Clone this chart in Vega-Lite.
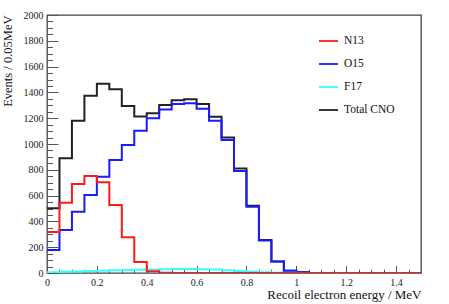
{
  "$schema": "https://vega.github.io/schema/vega-lite/v6.json",
  "autosize": {"type": "none"},
  "padding": {"left": 47, "top": 15, "right": 28, "bottom": 31},
  "width": 374,
  "height": 258,
  "background": "white",
  "config": {
    "view": {"stroke": "#444", "strokeWidth": 1.3},
    "font": "Liberation Serif"
  },
  "datasets": {
    "h": [
      {"s":"Total CNO","x":0,"y":501},{"s":"Total CNO","x":0.05,"y":890},{"s":"Total CNO","x":0.1,"y":1180},{"s":"Total CNO","x":0.15,"y":1375},{"s":"Total CNO","x":0.2,"y":1467},{"s":"Total CNO","x":0.25,"y":1424},{"s":"Total CNO","x":0.3,"y":1294},{"s":"Total CNO","x":0.35,"y":1214},{"s":"Total CNO","x":0.4,"y":1238},{"s":"Total CNO","x":0.45,"y":1302},{"s":"Total CNO","x":0.5,"y":1340},{"s":"Total CNO","x":0.55,"y":1346},{"s":"Total CNO","x":0.6,"y":1310},{"s":"Total CNO","x":0.65,"y":1212},{"s":"Total CNO","x":0.7,"y":1051},{"s":"Total CNO","x":0.75,"y":811},{"s":"Total CNO","x":0.8,"y":522},{"s":"Total CNO","x":0.85,"y":256},{"s":"Total CNO","x":0.9,"y":90},{"s":"Total CNO","x":0.95,"y":18},{"s":"Total CNO","x":1.0,"y":5},{"s":"Total CNO","x":1.05,"y":0},{"s":"Total CNO","x":1.1,"y":0},{"s":"Total CNO","x":1.15,"y":0},{"s":"Total CNO","x":1.2,"y":0},{"s":"Total CNO","x":1.25,"y":0},{"s":"Total CNO","x":1.3,"y":0},{"s":"Total CNO","x":1.35,"y":0},{"s":"Total CNO","x":1.4,"y":0},{"s":"Total CNO","x":1.45,"y":0},{"s":"Total CNO","x":1.5,"y":0},
      {"s":"O15","x":0,"y":178},{"s":"O15","x":0.05,"y":333},{"s":"O15","x":0.1,"y":475},{"s":"O15","x":0.15,"y":604},{"s":"O15","x":0.2,"y":747},{"s":"O15","x":0.25,"y":876},{"s":"O15","x":0.3,"y":992},{"s":"O15","x":0.35,"y":1103},{"s":"O15","x":0.4,"y":1199},{"s":"O15","x":0.45,"y":1268},{"s":"O15","x":0.5,"y":1310},{"s":"O15","x":0.55,"y":1315},{"s":"O15","x":0.6,"y":1274},{"s":"O15","x":0.65,"y":1181},{"s":"O15","x":0.7,"y":1031},{"s":"O15","x":0.75,"y":790},{"s":"O15","x":0.8,"y":514},{"s":"O15","x":0.85,"y":251},{"s":"O15","x":0.9,"y":90},{"s":"O15","x":0.95,"y":18},{"s":"O15","x":1.0,"y":5},{"s":"O15","x":1.05,"y":0},{"s":"O15","x":1.1,"y":0},{"s":"O15","x":1.15,"y":0},{"s":"O15","x":1.2,"y":0},{"s":"O15","x":1.25,"y":0},{"s":"O15","x":1.3,"y":0},{"s":"O15","x":1.35,"y":0},{"s":"O15","x":1.4,"y":0},{"s":"O15","x":1.45,"y":0},{"s":"O15","x":1.5,"y":0},
      {"s":"F17","x":0,"y":6},{"s":"F17","x":0.05,"y":9},{"s":"F17","x":0.1,"y":12},{"s":"F17","x":0.15,"y":15},{"s":"F17","x":0.2,"y":18},{"s":"F17","x":0.25,"y":21},{"s":"F17","x":0.3,"y":24},{"s":"F17","x":0.35,"y":26},{"s":"F17","x":0.4,"y":28},{"s":"F17","x":0.45,"y":30},{"s":"F17","x":0.5,"y":31},{"s":"F17","x":0.55,"y":31},{"s":"F17","x":0.6,"y":30},{"s":"F17","x":0.65,"y":27},{"s":"F17","x":0.7,"y":22},{"s":"F17","x":0.75,"y":16},{"s":"F17","x":0.8,"y":10},{"s":"F17","x":0.85,"y":5},{"s":"F17","x":0.9,"y":2},{"s":"F17","x":0.95,"y":1},{"s":"F17","x":1.0,"y":0},{"s":"F17","x":1.05,"y":0},{"s":"F17","x":1.1,"y":0},{"s":"F17","x":1.15,"y":0},{"s":"F17","x":1.2,"y":0},{"s":"F17","x":1.25,"y":0},{"s":"F17","x":1.3,"y":0},{"s":"F17","x":1.35,"y":0},{"s":"F17","x":1.4,"y":0},{"s":"F17","x":1.45,"y":0},{"s":"F17","x":1.5,"y":0},
      {"s":"N13","x":0,"y":318},{"s":"N13","x":0.05,"y":545},{"s":"N13","x":0.1,"y":690},{"s":"N13","x":0.15,"y":752},{"s":"N13","x":0.2,"y":703},{"s":"N13","x":0.25,"y":527},{"s":"N13","x":0.3,"y":277},{"s":"N13","x":0.35,"y":85},{"s":"N13","x":0.4,"y":13},{"s":"N13","x":0.45,"y":2},{"s":"N13","x":0.5,"y":0},{"s":"N13","x":0.55,"y":0},{"s":"N13","x":0.6,"y":0},{"s":"N13","x":0.65,"y":0},{"s":"N13","x":0.7,"y":0},{"s":"N13","x":0.75,"y":0},{"s":"N13","x":0.8,"y":0},{"s":"N13","x":0.85,"y":0},{"s":"N13","x":0.9,"y":0},{"s":"N13","x":0.95,"y":0},{"s":"N13","x":1.0,"y":0},{"s":"N13","x":1.05,"y":0},{"s":"N13","x":1.1,"y":0},{"s":"N13","x":1.15,"y":0},{"s":"N13","x":1.2,"y":0},{"s":"N13","x":1.25,"y":0},{"s":"N13","x":1.3,"y":0},{"s":"N13","x":1.35,"y":0},{"s":"N13","x":1.4,"y":0},{"s":"N13","x":1.45,"y":0},{"s":"N13","x":1.5,"y":0}
    ]
  },
  "data": {"name": "h"},
  "encoding": {
    "x": {
      "field": "x", "type": "quantitative",
      "scale": {"domain": [0, 1.5], "nice": false, "zero": false},
      "axis": {
        "title": "Recoil electron energy / MeV",
        "titleFont": "Liberation Serif", "titleFontSize": 13, "titleFontWeight": "normal", "titleColor": "#111",
        "titleAnchor": "end", "titlePadding": -2,
        "values": [0,0.05,0.1,0.15,0.2,0.25,0.3,0.35,0.4,0.45,0.5,0.55,0.6,0.65,0.7,0.75,0.8,0.85,0.9,0.95,1,1.05,1.1,1.15,1.2,1.25,1.3,1.35,1.4,1.45,1.5],
        "labelExpr": "(abs(datum.value*5 - round(datum.value*5)) < 0.001 && datum.value < 1.45) ? format(datum.value, '.1~f') : ''",
        "labelFont": "Liberation Serif", "labelFontSize": 10, "labelColor": "#222",
        "labelPadding": 11.5, "labelFlush": false, "labelOverlap": false,
        "domain": false, "grid": false,
        "tickColor": "#555", "tickWidth": 1,
        "tickSize": {"condition": {"test": "abs(datum.value*5 - round(datum.value*5)) < 0.001", "value": -7.5}, "value": -3.8}
      }
    },
    "y": {
      "field": "y", "type": "quantitative",
      "scale": {"domain": [0, 2000], "nice": false},
      "axis": {
        "title": "Events / 0.05MeV",
        "titleFont": "Liberation Serif", "titleFontSize": 12.5, "titleFontWeight": "normal", "titleColor": "#111",
        "titleAnchor": "end", "titlePadding": 9,
        "values": [0,50,100,150,200,250,300,350,400,450,500,550,600,650,700,750,800,850,900,950,1000,1050,1100,1150,1200,1250,1300,1350,1400,1450,1500,1550,1600,1650,1700,1750,1800,1850,1900,1950,2000],
        "labelExpr": "(datum.value % 200 == 0) ? format(datum.value, 'd') : ''",
        "labelFont": "Liberation Serif", "labelFontSize": 10, "labelColor": "#222",
        "labelPadding": 15, "labelFlush": false, "labelOverlap": false,
        "domain": false, "grid": false,
        "tickColor": "#555", "tickWidth": 1,
        "tickSize": {"condition": {"test": "datum.value % 200 == 0", "value": -11}, "value": -5.5}
      }
    },
    "color": {
      "field": "s", "type": "nominal",
      "scale": {"domain": ["N13", "O15", "F17", "Total CNO"], "range": ["#ff1a1a", "#1a1aff", "#33ffff", "#222222"]},
      "legend": {
        "orient": "none", "legendX": 271, "legendY": 15.5, "title": null,
        "symbolType": "stroke", "symbolSize": 361, "symbolStrokeWidth": 1.8,
        "labelFont": "Liberation Serif", "labelFontSize": 11.5, "labelColor": "#111",
        "labelOffset": 5, "rowPadding": 7
      }
    }
  },
  "layer": [
    {"transform": [{"filter": "datum.s == 'Total CNO'"}], "mark": {"type": "line", "interpolate": "step-after", "strokeWidth": 2, "clip": true}},
    {"transform": [{"filter": "datum.s == 'O15'"}], "mark": {"type": "line", "interpolate": "step-after", "strokeWidth": 2, "clip": true}},
    {"transform": [{"filter": "datum.s == 'F17'"}], "mark": {"type": "line", "interpolate": "step-after", "strokeWidth": 2, "clip": true}},
    {"transform": [{"filter": "datum.s == 'N13'"}], "mark": {"type": "line", "interpolate": "step-after", "strokeWidth": 2, "clip": true}}
  ]
}
